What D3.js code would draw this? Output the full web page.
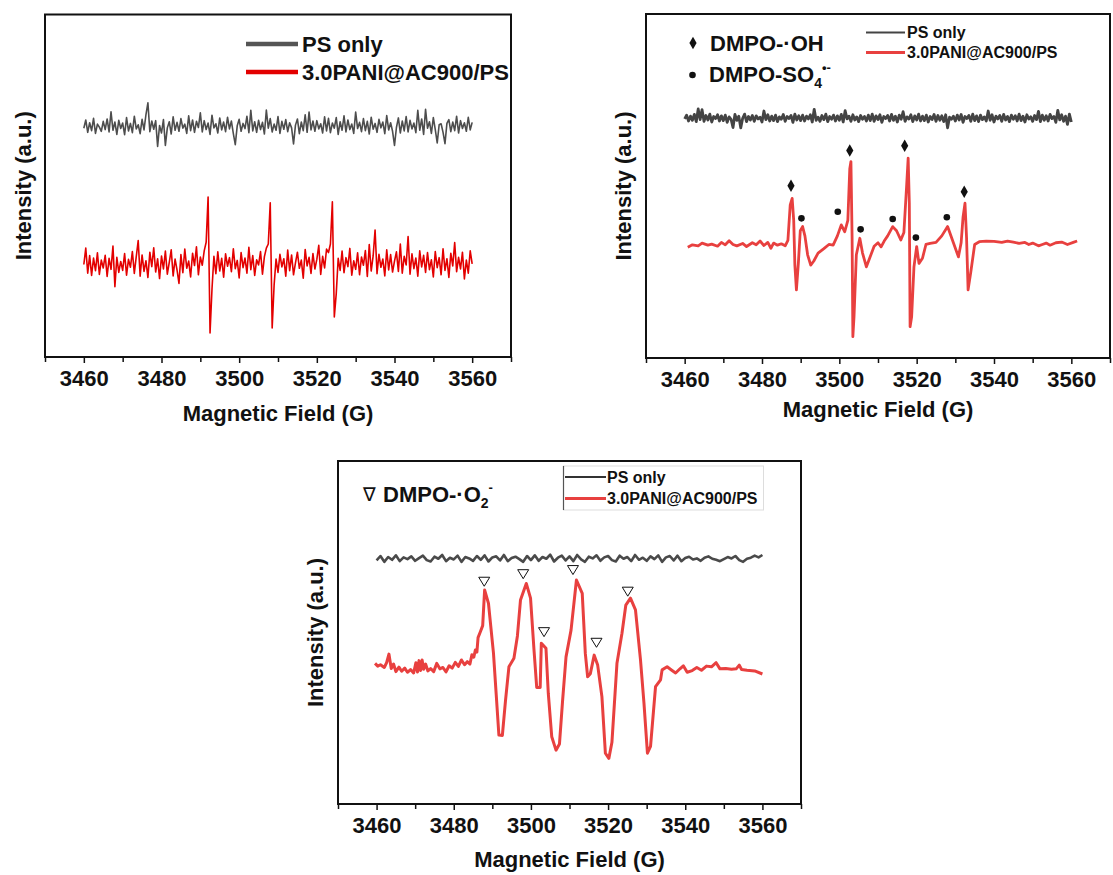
<!DOCTYPE html>
<html>
<head>
<meta charset="utf-8">
<script src="https://cdn.jsdelivr.net/npm/d3@7"></script>
<style>
  body { margin: 0; background: #fff; }
  svg { display: block; font-family: "Liberation Sans", Arial, sans-serif; }
  .tick text { font-size: 22px; font-weight: bold; fill: #111; }
</style>
</head>
<body>
<svg id="chart" width="1113" height="875"></svg>
<script>
// EPR spectra, three panels: PS only vs 3.0PANI@AC900/PS

const fieldTicks = [3460, 3480, 3500, 3520, 3540, 3560];
const minorTicks = [3450, 3470, 3490, 3510, 3530, 3550, 3570];
const fieldDomain = [3450, 3570];

// panel 1 (0.5 G step from 3460)
const p1Gray = [
  66.8, 69.2, 65.6, 68.4, 66.1, 69.7, 65.3, 68.0, 67.1, 65.9,
  68.8, 66.4, 69.5, 65.7, 71.6, 66.2, 68.6, 65.0, 69.1, 66.7,
  68.3, 64.9, 69.9, 66.0, 68.2, 65.5, 70.3, 66.6, 67.8, 65.2,
  69.4, 66.3, 70.8, 74.2, 65.8, 68.9, 66.5, 69.0, 61.5, 67.6,
  65.4, 69.3, 61.8, 66.9, 68.7, 65.1, 70.1, 66.2, 68.5, 65.9,
  69.6, 66.8, 68.0, 65.3, 70.4, 66.1, 69.2, 65.6, 68.8, 67.0,
  71.3, 65.7, 69.0, 66.4, 68.3, 65.0, 70.6, 66.9, 68.1, 65.4,
  69.8, 66.3, 68.6, 65.8, 70.0, 66.6, 68.9, 65.2, 62.0, 67.5,
  69.4, 65.9, 68.2, 66.7, 70.3, 65.5, 72.0, 66.0, 68.7, 65.6,
  69.1, 66.4, 68.5, 65.1, 72.1, 66.8, 69.6, 65.7, 68.0, 66.2,
  70.2, 65.3, 68.8, 66.5, 69.3, 65.8, 68.4, 66.9, 62.2, 67.7,
  69.5, 65.2, 68.6, 66.1, 70.7, 65.6, 71.5, 66.3, 68.9, 65.9,
  69.0, 66.6, 68.1, 65.4, 70.1, 66.0, 69.7, 65.5, 68.3, 66.8,
  69.9, 65.0, 68.7, 66.2, 70.4, 65.7, 69.2, 66.4, 68.0, 65.3,
  71.5, 66.7, 68.5, 65.8, 69.6, 66.1, 68.8, 65.1, 70.0, 66.5,
  68.2, 65.6, 69.4, 66.9, 68.6, 65.2, 70.5, 66.3, 68.4, 65.9,
  61.8, 67.0, 69.8, 65.4, 68.9, 66.0, 70.2, 65.7, 69.1, 66.6,
  68.3, 65.5, 72.0, 66.2, 69.5, 65.0, 72.3, 66.8, 68.7, 65.3,
  69.9, 66.4, 62.5, 67.8, 68.1, 65.6, 62.3, 68.2, 69.3, 65.8,
  68.6, 66.1, 70.3, 65.4, 69.0, 66.7, 68.4, 65.9, 70.0, 66.3,
  68.5
];
const p1Red = [
  27.0, 31.8, 24.5, 29.6, 23.8, 28.9, 25.2, 30.4, 24.1, 28.3,
  26.0, 29.7, 23.5, 28.8, 25.6, 32.4, 20.5, 29.1, 24.7, 27.9,
  25.3, 30.2, 23.9, 28.5, 26.2, 30.8, 24.4, 29.3, 34.0, 23.6,
  29.8, 25.0, 28.1, 23.2, 30.6, 26.4, 31.9, 24.8, 28.7, 22.9,
  29.5, 25.7, 30.9, 24.2, 27.6, 31.3, 23.7, 28.6, 25.4, 21.5,
  29.9, 24.6, 31.5, 25.9, 28.0, 23.4, 30.3, 26.7, 32.2, 24.0,
  29.2, 26.8, 31.0, 33.5, 46.7, 7.0, 19.8, 29.4, 24.3, 30.7,
  25.1, 28.8, 23.3, 30.1, 26.5, 29.0, 24.9, 31.6, 25.8, 28.2,
  23.1, 30.5, 26.1, 28.9, 24.5, 32.0, 25.5, 29.6, 23.8, 28.4,
  26.9, 30.8, 24.2, 29.3, 31.8, 33.0, 45.0, 8.5, 21.0, 28.6,
  24.7, 30.0, 26.3, 28.7, 23.6, 31.2, 25.2, 29.8, 24.0, 27.5,
  30.6, 25.9, 28.3, 23.0, 31.4, 26.6, 29.1, 24.4, 30.2, 25.7,
  28.5, 32.6, 24.1, 29.4, 26.0, 31.5, 30.5, 33.0, 45.3, 11.7,
  18.5, 28.8, 25.3, 30.9, 24.6, 29.0, 26.4, 31.7, 23.9, 28.1,
  25.6, 30.4, 24.0, 29.2, 26.8, 31.1, 23.5, 32.8, 25.1, 29.5,
  37.1, 24.3, 30.0, 26.2, 28.6, 23.7, 31.3, 25.4, 29.9, 24.8,
  28.0, 30.7, 25.0, 33.0, 24.5, 29.4, 26.9, 35.2, 24.2, 30.1,
  25.8, 28.9, 23.6, 31.0, 26.3, 29.7, 24.7, 30.5, 25.5, 28.4,
  23.4, 30.8, 26.1, 29.0, 24.0, 31.6, 25.3, 28.7, 23.2, 30.3,
  26.6, 33.4, 24.9, 29.1, 25.7, 30.6, 22.8, 28.3, 24.5, 31.0,
  27.2
];

// panel 2 (gray: 0.5 G step from 3460; red: [field, intensity])
const p2Gray = [
  69.5, 70.6, 68.9, 70.3, 69.1, 70.8, 68.7, 72.4, 69.3, 72.2,
  68.8, 70.5, 69.2, 70.9, 68.6, 70.2, 69.6, 70.7, 68.9, 70.4,
  69.0, 70.6, 68.5, 70.1, 69.4, 67.0, 70.8, 69.1, 70.3, 66.9,
  69.7, 70.9, 68.7, 70.2, 69.2, 70.5, 68.8, 70.4, 69.5, 70.0,
  68.6, 71.8, 69.3, 70.7, 68.9, 70.3, 69.0, 70.6, 68.7, 70.1,
  69.4, 70.8, 68.8, 70.2, 69.6, 70.5, 68.5, 70.9, 69.2, 70.4,
  69.0, 70.6, 68.9, 70.3, 69.5, 70.7, 68.6, 72.3, 69.1, 70.0,
  68.8, 70.5, 69.3, 70.9, 68.7, 70.2, 69.4, 70.6, 68.9, 70.4,
  69.1, 70.8, 68.6, 71.9, 69.5, 70.3, 68.8, 70.7, 69.2, 70.1,
  68.7, 70.5, 69.4, 70.2, 68.9, 70.6, 69.0, 70.9, 68.8, 70.4,
  69.3, 70.7, 68.5, 70.2, 69.6, 70.5, 68.9, 70.8, 69.1, 70.3,
  68.6, 70.6, 69.4, 71.6, 68.8, 70.1, 69.5, 70.7, 68.7, 70.4,
  69.2, 70.9, 68.9, 70.3, 69.0, 70.6, 68.6, 70.2, 69.3, 70.8,
  68.8, 70.5, 69.1, 70.4, 68.7, 70.7, 66.9, 70.0, 69.4, 70.3,
  68.9, 70.6, 69.2, 70.8, 68.5, 70.2, 69.6, 70.5, 68.8, 70.9,
  69.0, 70.4, 68.7, 70.6, 69.3, 70.1, 68.9, 71.8, 69.1, 70.7,
  68.6, 70.3, 69.5, 70.5, 68.8, 70.8, 69.2, 70.2, 68.7, 70.6,
  69.4, 70.4, 68.9, 70.9, 69.0, 70.3, 68.6, 70.7, 69.5, 70.1,
  68.8, 70.5, 69.3, 71.7, 68.7, 70.6, 69.1, 70.4, 68.9, 70.8,
  69.6, 70.2, 68.5, 72.0, 69.2, 70.7, 68.8, 70.3, 67.9, 70.9,
  68.6
];
const p2Red = [
  [3460.8, 32.2], [3462, 32.9], [3463.5, 32.6], [3464.5, 33.4], [3466, 32.8],
  [3467, 33.1], [3468.5, 32.5], [3469.5, 33.6], [3470.5, 32.9], [3471.5, 34.1],
  [3472.5, 33.0], [3473.5, 32.6], [3475, 33.3], [3476, 32.4], [3477.5, 33.5],
  [3478.5, 32.9], [3479.5, 34.0], [3480.5, 32.7], [3481.5, 33.6], [3482.3, 31.9],
  [3483, 33.4], [3484, 32.8], [3485, 33.2], [3486, 32.6], [3486.7, 34.2],
  [3487.3, 44.5], [3487.8, 46.4], [3488.2, 40.0], [3488.5, 27.0], [3488.9, 19.8],
  [3489.4, 27.5], [3489.9, 37.0], [3490.5, 38.2], [3491.1, 35.5], [3491.8, 30.0],
  [3492.6, 27.0], [3493.4, 28.2], [3494.5, 30.5], [3496, 31.8], [3497.3, 33.0],
  [3498.4, 32.8], [3499.5, 35.5], [3500.5, 38.7], [3501.4, 36.7], [3502.2, 40.0],
  [3502.7, 55.0], [3503.0, 57.1], [3503.3, 35.0], [3503.5, 6.2], [3503.8, 12.0],
  [3504.4, 30.0], [3505.3, 34.8], [3506.0, 30.5], [3507.0, 26.5], [3508.0, 29.5],
  [3509.0, 32.5], [3510.0, 33.5], [3510.8, 32.3], [3511.6, 34.0], [3512.5, 35.5],
  [3513.8, 38.2], [3514.8, 37.0], [3515.9, 34.3], [3516.7, 36.5], [3517.4, 50.0],
  [3517.8, 58.1], [3518.1, 45.0], [3518.3, 9.1], [3518.7, 12.0], [3519.3, 26.5],
  [3520.0, 32.4], [3520.6, 27.5], [3521.5, 29.0], [3522.4, 33.0], [3523.5, 33.3],
  [3525, 33.6], [3526.5, 35.5], [3528, 38.2], [3529.5, 33.5], [3530.8, 29.4],
  [3531.5, 33.5], [3532.0, 41.0], [3532.5, 45.0], [3532.9, 35.0], [3533.3, 19.8],
  [3534, 25.0], [3535, 33.0], [3536.2, 33.8], [3538, 34.0], [3540, 33.9],
  [3542, 33.6], [3543.5, 34.0], [3545, 33.7], [3546.5, 33.3], [3548, 33.6],
  [3549, 33.0], [3550, 33.4], [3551.5, 32.6], [3552.5, 33.0], [3553.5, 33.4],
  [3554.5, 32.8], [3556, 33.5], [3557.5, 33.7], [3559, 33.0], [3560.5, 33.6],
  [3561.5, 34.0]
];
const p2OH = [[3487.5, 50.1], [3502.7, 60.3], [3516.9, 61.7], [3532.3, 48.3]];
const p2SO4 = [[3490.2, 40.6], [3499.6, 42.5], [3505.5, 37.4], [3513.8, 40.4], [3519.8, 35.0], [3527.8, 40.9]];

// panel 3 (gray: 1 G step from 3460; red: [field, intensity])
const p3Gray = [
  71.0, 72.3, 70.6, 72.0, 71.2, 72.5, 70.8, 71.9, 71.4, 72.2,
  70.9, 71.7, 72.4, 71.1, 70.7, 72.1, 71.5, 72.6, 70.8, 71.8,
  71.3, 72.4, 70.6, 72.0, 71.6, 70.9, 72.3, 71.2, 72.5, 70.7,
  71.9, 72.2, 71.0, 72.6, 70.8, 71.7, 72.1, 71.4, 70.6, 72.3,
  71.1, 72.5, 70.9, 72.0, 71.5, 72.7, 70.7, 71.8, 72.4, 71.0,
  72.2, 70.8, 72.6, 71.3, 70.6, 72.1, 71.6, 72.5, 70.9, 71.9,
  72.3, 71.1, 70.7, 72.4, 71.5, 72.0, 70.8, 72.6, 71.2, 71.8,
  70.9, 72.2, 71.4, 72.5, 70.6, 71.9, 72.3, 71.0, 72.4, 70.8,
  71.7, 72.1, 71.3, 71.6, 70.9, 71.8, 72.2, 71.5, 71.2, 70.8,
  71.4, 72.0, 71.6, 72.3, 71.1, 70.6, 71.5, 71.8, 72.4, 71.9,
  72.6
];
const p3Red = [
  [3459.6, 41.0], [3460.3, 40.2], [3461, 40.6], [3462, 39.8], [3462.6, 41.2],
  [3463.2, 43.7], [3463.8, 39.5], [3464.4, 40.8], [3465, 38.6], [3465.8, 39.9],
  [3466.5, 38.7], [3467.3, 39.6], [3468, 38.4], [3468.8, 39.2], [3469.6, 38.2],
  [3470.2, 41.2], [3470.6, 38.5], [3471, 41.8], [3471.4, 38.9], [3471.8, 42.0],
  [3472.2, 39.3], [3472.7, 40.8], [3473.3, 38.8], [3474, 39.5], [3474.8, 38.6],
  [3475.6, 41.0], [3476.4, 39.4], [3477.2, 39.8], [3478, 38.5], [3478.8, 40.3],
  [3479.6, 39.6], [3480.4, 41.3], [3481.2, 40.1], [3482, 42.0], [3482.8, 40.6],
  [3483.5, 41.5], [3484.2, 40.8], [3484.7, 43.5], [3485.2, 42.8], [3485.6, 44.9],
  [3486.0, 44.3], [3486.3, 48.5], [3486.9, 50.2], [3487.5, 52.0], [3488.0, 62.4],
  [3489.0, 58.5], [3490.3, 43.9], [3491.0, 32.0], [3491.7, 20.1], [3492.6, 20.0],
  [3493.4, 30.0], [3494.3, 40.0], [3495.6, 42.5], [3496.5, 49.0], [3497.3, 59.5],
  [3498.8, 64.3], [3499.9, 60.0], [3500.8, 44.9], [3501.5, 34.0], [3502.4, 34.0],
  [3502.7, 46.9], [3503.9, 45.4], [3504.5, 32.3], [3505.4, 19.6], [3506.5, 15.7],
  [3507.4, 17.5], [3508.2, 30.0], [3509.1, 42.9], [3510.4, 50.7], [3511.8, 65.3],
  [3513.3, 61.4], [3514.1, 43.9], [3514.7, 37.1], [3515.4, 38.0], [3516.4, 43.4],
  [3517.3, 40.5], [3518.4, 31.3], [3519.3, 14.8], [3520.2, 13.3], [3521.0, 18.0],
  [3522.3, 41.0], [3523.6, 49.8], [3524.6, 58.0], [3525.8, 60.0], [3527.1, 56.6],
  [3528.4, 42.0], [3529.3, 29.4], [3530.2, 14.8], [3531.0, 16.8], [3532.3, 34.2],
  [3533.6, 36.2], [3534.0, 39.1], [3535.3, 40.0], [3536.5, 39.0], [3537.5, 38.2],
  [3538.7, 39.5], [3539.5, 40.3], [3540.5, 38.4], [3541.8, 38.9], [3543, 39.8],
  [3544.2, 39.0], [3545.5, 40.2], [3546.8, 40.0], [3548, 41.2], [3549, 39.4],
  [3550.5, 39.5], [3552, 39.3], [3553.2, 39.4], [3554, 40.5], [3554.6, 39.2],
  [3556, 39.0], [3558, 38.8], [3560, 37.9]
];
const p3O2 = [[3487.9, 64.8], [3498.0, 67.0], [3503.4, 50.1], [3510.9, 68.2], [3517.0, 47.0], [3525.1, 61.9]];

const seriesNames = ['PS only', '3.0PANI@AC900/PS'];

const svg = d3.select('#chart');

// turn an evenly spaced array into [field, value] pairs
function stepPairs(values, start, step) {
    return values.map((v, i) => [start + i * step, v]);
}

function drawPanel(cfg) {
    const g = svg.append('g');
    const x = d3.scaleLinear().domain(fieldDomain).range([cfg.left, cfg.right]);
    const y = d3.scaleLinear().domain([0, 100]).range([cfg.bottom, cfg.top]);

    // minor ticks
    g.append('g')
        .attr('transform', `translate(0,${cfg.bottom})`)
        .call(d3.axisBottom(x).tickValues(minorTicks).tickSize(5).tickSizeOuter(0).tickFormat(''))
        .call(a => a.select('.domain').remove())
        .selectAll('line').attr('stroke', '#111').attr('stroke-width', 1.5);

    // major ticks + labels
    g.append('g')
        .attr('transform', `translate(0,${cfg.bottom})`)
        .call(d3.axisBottom(x).tickValues(fieldTicks).tickSize(6).tickSizeOuter(0).tickPadding(7).tickFormat(d3.format('d')))
        .call(a => a.select('.domain').remove())
        .call(a => a.selectAll('line').attr('stroke', '#111').attr('stroke-width', 1.5));

    // frame
    g.append('rect')
        .attr('x', cfg.left).attr('y', cfg.top)
        .attr('width', cfg.right - cfg.left).attr('height', cfg.bottom - cfg.top)
        .attr('fill', 'none').attr('stroke', '#111').attr('stroke-width', 2);

    // axis titles
    g.append('text')
        .attr('x', (cfg.left + cfg.right) / 2)
        .attr('y', cfg.titleY)
        .attr('text-anchor', 'middle')
        .style('font-size', '22px').style('font-weight', 'bold').attr('fill', '#111')
        .text('Magnetic Field (G)');

    g.append('text')
        .attr('transform', `translate(${cfg.yLabelX},${(cfg.top + cfg.bottom) / 2}) rotate(-90)`)
        .attr('text-anchor', 'middle')
        .style('font-size', '22px').style('font-weight', 'bold').attr('fill', '#111')
        .text('Intensity (a.u.)');

    const line = d3.line().x(d => x(d[0])).y(d => y(d[1]));

    g.append('path')
        .datum(cfg.gray)
        .attr('d', line)
        .attr('fill', 'none')
        .attr('stroke', cfg.grayColor)
        .attr('stroke-width', cfg.grayWidth)
        .attr('stroke-linejoin', 'round');

    g.append('path')
        .datum(cfg.red)
        .attr('d', line)
        .attr('fill', 'none')
        .attr('stroke', cfg.redColor)
        .attr('stroke-width', cfg.redWidth)
        .attr('stroke-linejoin', 'round');

    return { g, x, y };
}

// ---------- panel 1 ----------
const p1 = drawPanel({
    left: 45, top: 14.5, right: 511, bottom: 357,
    titleY: 421, yLabelX: 31,
    gray: stepPairs(p1Gray, 3460, 0.5), red: stepPairs(p1Red, 3460, 0.5),
    grayColor: '#4d4d4d', grayWidth: 1.6, redColor: '#e30000', redWidth: 1.6
});
[[44, '#555'], [72, '#e30000']].forEach(([ly, c], i) => {
    p1.g.append('line').attr('x1', 246).attr('x2', 298).attr('y1', ly).attr('y2', ly)
        .attr('stroke', c).attr('stroke-width', 4.5);
    p1.g.append('text').attr('x', 302).attr('y', ly + 7.5)
        .style('font-size', '22px').style('font-weight', 'bold').attr('fill', '#111')
        .text(seriesNames[i]);
});

// ---------- panel 2 ----------
const p2 = drawPanel({
    left: 646, top: 14, right: 1110, bottom: 358,
    titleY: 417, yLabelX: 631,
    gray: stepPairs(p2Gray, 3460, 0.5), red: p2Red,
    grayColor: '#444', grayWidth: 2.8, redColor: '#e8403f', redWidth: 2.8
});
p2.g.selectAll('.oh')
    .data(p2OH).enter().append('path')
    .attr('transform', d => `translate(${p2.x(d[0])},${p2.y(d[1])})`)
    .attr('d', d3.symbol(d3.symbolDiamond, 45))
    .attr('fill', '#111');
p2.g.selectAll('.so4')
    .data(p2SO4).enter().append('circle')
    .attr('cx', d => p2.x(d[0])).attr('cy', d => p2.y(d[1])).attr('r', 3.3)
    .attr('fill', '#111');

p2.g.append('path').attr('transform', 'translate(693,43)')
    .attr('d', d3.symbol(d3.symbolDiamond, 45)).attr('fill', '#111');
p2.g.append('text').attr('x', 710).attr('y', 50.5)
    .style('font-size', '22px').style('font-weight', 'bold').attr('fill', '#111')
    .text('DMPO-·OH');
p2.g.append('circle').attr('cx', 692.5).attr('cy', 75).attr('r', 3.3).attr('fill', '#111');
const so4 = p2.g.append('text').attr('x', 709).attr('y', 82)
    .style('font-size', '22px').style('font-weight', 'bold').attr('fill', '#111');
so4.append('tspan').text('DMPO-SO');
so4.append('tspan').attr('dy', 6).style('font-size', '14px').text('4');
so4.append('tspan').attr('dy', -16).style('font-size', '13px').text('•-');

[[32.5, '#444', 2], [52.5, '#e8403f', 2.8]].forEach(([ly, c, w], i) => {
    p2.g.append('line').attr('x1', 866).attr('x2', 905).attr('y1', ly).attr('y2', ly)
        .attr('stroke', c).attr('stroke-width', w);
    p2.g.append('text').attr('x', 907).attr('y', ly + 5.5)
        .style('font-size', '16px').style('font-weight', 'bold').attr('fill', '#111')
        .text(seriesNames[i]);
});

// ---------- panel 3 ----------
const p3 = drawPanel({
    left: 338, top: 461, right: 801, bottom: 804,
    titleY: 867, yLabelX: 323,
    gray: stepPairs(p3Gray, 3460, 1), red: p3Red,
    grayColor: '#4a4a4a', grayWidth: 2.6, redColor: '#e8403f', redWidth: 3
});
const nabla = 'M-5.5,-4.5L5.5,-4.5L0,4.5Z';
p3.g.selectAll('.o2')
    .data(p3O2).enter().append('path')
    .attr('transform', d => `translate(${p3.x(d[0])},${p3.y(d[1])})`)
    .attr('d', nabla)
    .attr('fill', '#fff').attr('stroke', '#111').attr('stroke-width', 1);

p3.g.append('text').attr('x', 363).attr('y', 501)
    .style('font-size', '19px').attr('fill', '#111').text('∇');
const o2 = p3.g.append('text').attr('x', 383).attr('y', 502)
    .style('font-size', '22px').style('font-weight', 'bold').attr('fill', '#111');
o2.append('tspan').text('DMPO-·O');
o2.append('tspan').attr('dy', 6).style('font-size', '14px').text('2');
o2.append('tspan').attr('dy', -16).style('font-size', '13px').text('-');

// legend box
p3.g.append('rect').attr('x', 563.5).attr('y', 466).attr('width', 200).attr('height', 44)
    .attr('fill', '#fff').attr('stroke', '#ddd').attr('stroke-width', 1);
p3.g.append('line').attr('x1', 563.5).attr('x2', 563.5).attr('y1', 466).attr('y2', 510)
    .attr('stroke', '#555').attr('stroke-width', 1.2);
[[477, '#333', 1.8], [498.5, '#e8403f', 3]].forEach(([ly, c, w], i) => {
    p3.g.append('line').attr('x1', 565).attr('x2', 606).attr('y1', ly).attr('y2', ly)
        .attr('stroke', c).attr('stroke-width', w);
    p3.g.append('text').attr('x', 607).attr('y', ly + 5.5)
        .style('font-size', '16px').style('font-weight', 'bold').attr('fill', '#111')
        .text(seriesNames[i]);
});
</script>
</body>
</html>
